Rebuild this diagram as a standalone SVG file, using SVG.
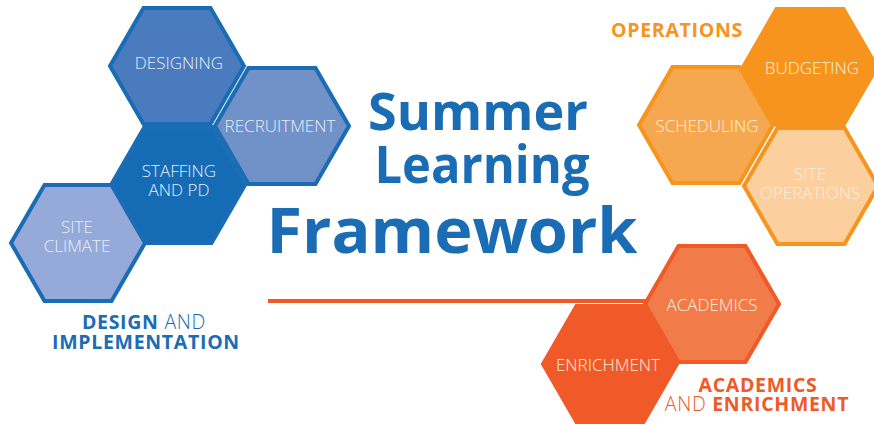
<svg xmlns="http://www.w3.org/2000/svg" xmlns:xlink="http://www.w3.org/1999/xlink" width="874" height="425" viewBox="0 0 874 425">
<style>
.hb{stroke:#1a6cb5;stroke-width:4;stroke-linejoin:miter}
.ho{stroke:#f7941d;stroke-width:4}
.hr{stroke:#f05a28;stroke-width:4}
.lbl{font-family:"Open Sans","DejaVu Sans",sans-serif;font-weight:300;font-size:17px;text-anchor:middle}
.lb{fill:#e8eef8}
.lo{fill:#fdeedd}
.title{font-family:"Open Sans","Liberation Sans",sans-serif;font-weight:700;fill:#1a6db5;text-anchor:middle}
.cap{font-family:"Open Sans","Liberation Sans",sans-serif;font-size:19.5px;text-anchor:middle;letter-spacing:0.7px}
.bold{font-weight:700}
.light{font-weight:300}
</style>
<defs>
<polygon id="hex" points="-67,0 -33.5,-58 33.5,-58 67,0 33.5,58 -33.5,58"/>
</defs>
<rect width="874" height="425" fill="#ffffff"/>

<g id="divider">
<line x1="268" y1="301" x2="646" y2="301" stroke="#f05a28" stroke-width="4"/>
</g>

<g id="designing">
<use xlink:href="#hex" x="177" y="66" class="hb" fill="#4a7bbf"/>
<text class="lbl lb" x="179" y="69">DESIGNING</text>
</g>
<g id="recruitment">
<use xlink:href="#hex" x="282" y="126" class="hb" fill="#7191c9"/>
<text class="lbl lb" x="280" y="132">RECRUITMENT</text>
</g>
<g id="staffing">
<use xlink:href="#hex" x="178" y="185" class="hb" fill="#156cb5"/>
<text class="lbl lb" x="179" y="177">STAFFING<tspan x="179" dy="19">AND PD</tspan></text>
</g>
<g id="site-climate">
<use xlink:href="#hex" x="78" y="243" class="hb" fill="#95aad8"/>
<text class="lbl lb" x="77" y="233">SITE<tspan x="77" dy="19">CLIMATE</tspan></text>
</g>

<g id="budgeting">
<use xlink:href="#hex" x="810" y="67" class="ho" fill="#f7941d"/>
<text class="lbl lo" x="812" y="74">BUDGETING</text>
</g>
<g id="scheduling">
<use xlink:href="#hex" x="706" y="125" class="ho" fill="#f5a84f"/>
<text class="lbl lo" x="707" y="132">SCHEDULING</text>
</g>
<g id="site-operations">
<use xlink:href="#hex" x="811" y="186" class="ho" fill="#fbcf9e"/>
<text class="lbl lo" x="810" y="180">SITE<tspan x="810" dy="19">OPERATIONS</tspan></text>
</g>

<g id="academics">
<use xlink:href="#hex" x="712" y="304" class="hr" fill="#f27b4a"/>
<text class="lbl lo" x="712" y="311">ACADEMICS</text>
</g>
<g id="enrichment">
<use xlink:href="#hex" x="610" y="364" class="hr" fill="#f05a28"/>
<text class="lbl lo" x="608" y="371">ENRICHMENT</text>
</g>

<g id="title">
<text class="title" x="478" y="130" font-size="52" textLength="220" lengthAdjust="spacingAndGlyphs">Summer</text>
<text class="title" x="482" y="183" font-size="52" textLength="215" lengthAdjust="spacingAndGlyphs">Learning</text>
<text class="title" x="452" y="253" font-size="63" textLength="371" lengthAdjust="spacingAndGlyphs">Framework</text>
</g>

<g id="cap-operations">
<text class="cap bold" x="677" y="37" fill="#f7941d">OPERATIONS</text>
</g>
<g id="cap-design">
<text class="cap" x="144" y="329" fill="#1a6cb5"><tspan class="bold">DESIGN</tspan> <tspan class="light">AND</tspan><tspan class="bold" x="146" dy="20">IMPLEMENTATION</tspan></text>
</g>
<g id="cap-academics">
<text class="cap" x="758" y="392" fill="#f05a28"><tspan class="bold">ACADEMICS</tspan><tspan class="light" x="757" dy="19">AND</tspan> <tspan class="bold">ENRICHMENT</tspan></text>
</g>
</svg>
